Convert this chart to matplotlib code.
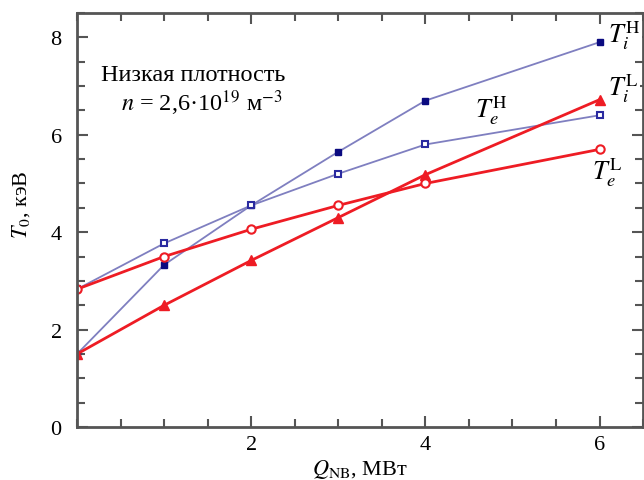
import matplotlib
matplotlib.use('Agg')
import matplotlib.pyplot as plt
from matplotlib.ticker import MultipleLocator, FixedLocator

plt.rcParams['font.family'] = ['Liberation Serif', 'DejaVu Serif']
plt.rcParams['mathtext.fontset'] = 'stix'

# мощность нагрева пучками, МВт
q_nb = [0, 1, 2, 3, 4, 6]
# температуры, кэВ
ti_h = [1.5, 3.33, 4.55, 5.65, 6.7, 7.9]
te_h = [2.83, 3.77, 4.55, 5.2, 5.8, 6.4]
ti_l = [1.5, 2.5, 3.42, 4.3, 5.18, 6.72]
te_l = [2.83, 3.5, 4.06, 4.55, 5.0, 5.7]

fig = plt.figure(figsize=(6.44, 4.81), dpi=100)
ax = fig.add_axes([0.1196, 0.110, 0.879, 0.861])

navy = '#0a0a80'
blue_line = '#7f7fc0'
red = '#ee1c24'

ax.plot(q_nb, ti_h, '-', color=blue_line, lw=1.3, marker='s', ms=5,
        mfc=navy, mec=navy)
ax.plot(q_nb, te_h, '-', color=blue_line, lw=1.3, marker='s', ms=5,
        mfc='white', mec='#2a2aa0', mew=1.5)
ax.plot(q_nb, ti_l, '-', color=red, lw=2.0, marker='^', ms=7,
        mfc=red, mec=red)
ax.plot(q_nb, te_l, '-', color=red, lw=2.0, marker='o', ms=6,
        mfc='white', mec=red, mew=1.5)

ax.set_xlim(0, 6.5)
ax.set_ylim(0, 8.5)
ax.xaxis.set_major_locator(FixedLocator([2, 4, 6]))
ax.xaxis.set_minor_locator(MultipleLocator(0.5))
ax.yaxis.set_major_locator(MultipleLocator(2))
ax.yaxis.set_minor_locator(MultipleLocator(0.5))
ax.tick_params(which='both', direction='in', top=True, right=True,
               color='#555555', width=1.5, labelsize=16)
ax.tick_params(which='major', length=8, pad=6)
ax.tick_params(which='minor', length=6)
ax.tick_params(axis='y', which='major', pad=11)
for s in ax.spines.values():
    s.set_color('#555555')
    s.set_linewidth(2)

ax.set_xlabel(r'$Q_{\mathrm{NB}}$, МВт', fontsize=16, labelpad=2)
ax.set_ylabel(r'$T_0$, кэВ', fontsize=16)
ax.yaxis.set_label_coords(-0.08, 0.54)

ax.text(0.27, 7.12, 'Низкая плотность', fontsize=17.5)
ax.text(0.5, 6.5, r'$n$ = 2,6·10$^{19}$ м$^{-3}$', fontsize=17.5)

# подписи кривых, правые закрывают засечки рамки
white = dict(fc='white', ec='none', pad=1)
ax.text(6.1, 7.9, r'$T_i^{\mathrm{H}}$', fontsize=19, bbox=white, zorder=4)
ax.text(6.1, 6.83, r'$T_i^{\mathrm{L}}$', fontsize=19, bbox=white, zorder=4)
ax.text(4.57, 6.38, r'$T_e^{\mathrm{H}}$', fontsize=19)
ax.text(5.91, 5.09, r'$T_e^{\mathrm{L}}$', fontsize=19)

fig.savefig('out.png', dpi=100)
